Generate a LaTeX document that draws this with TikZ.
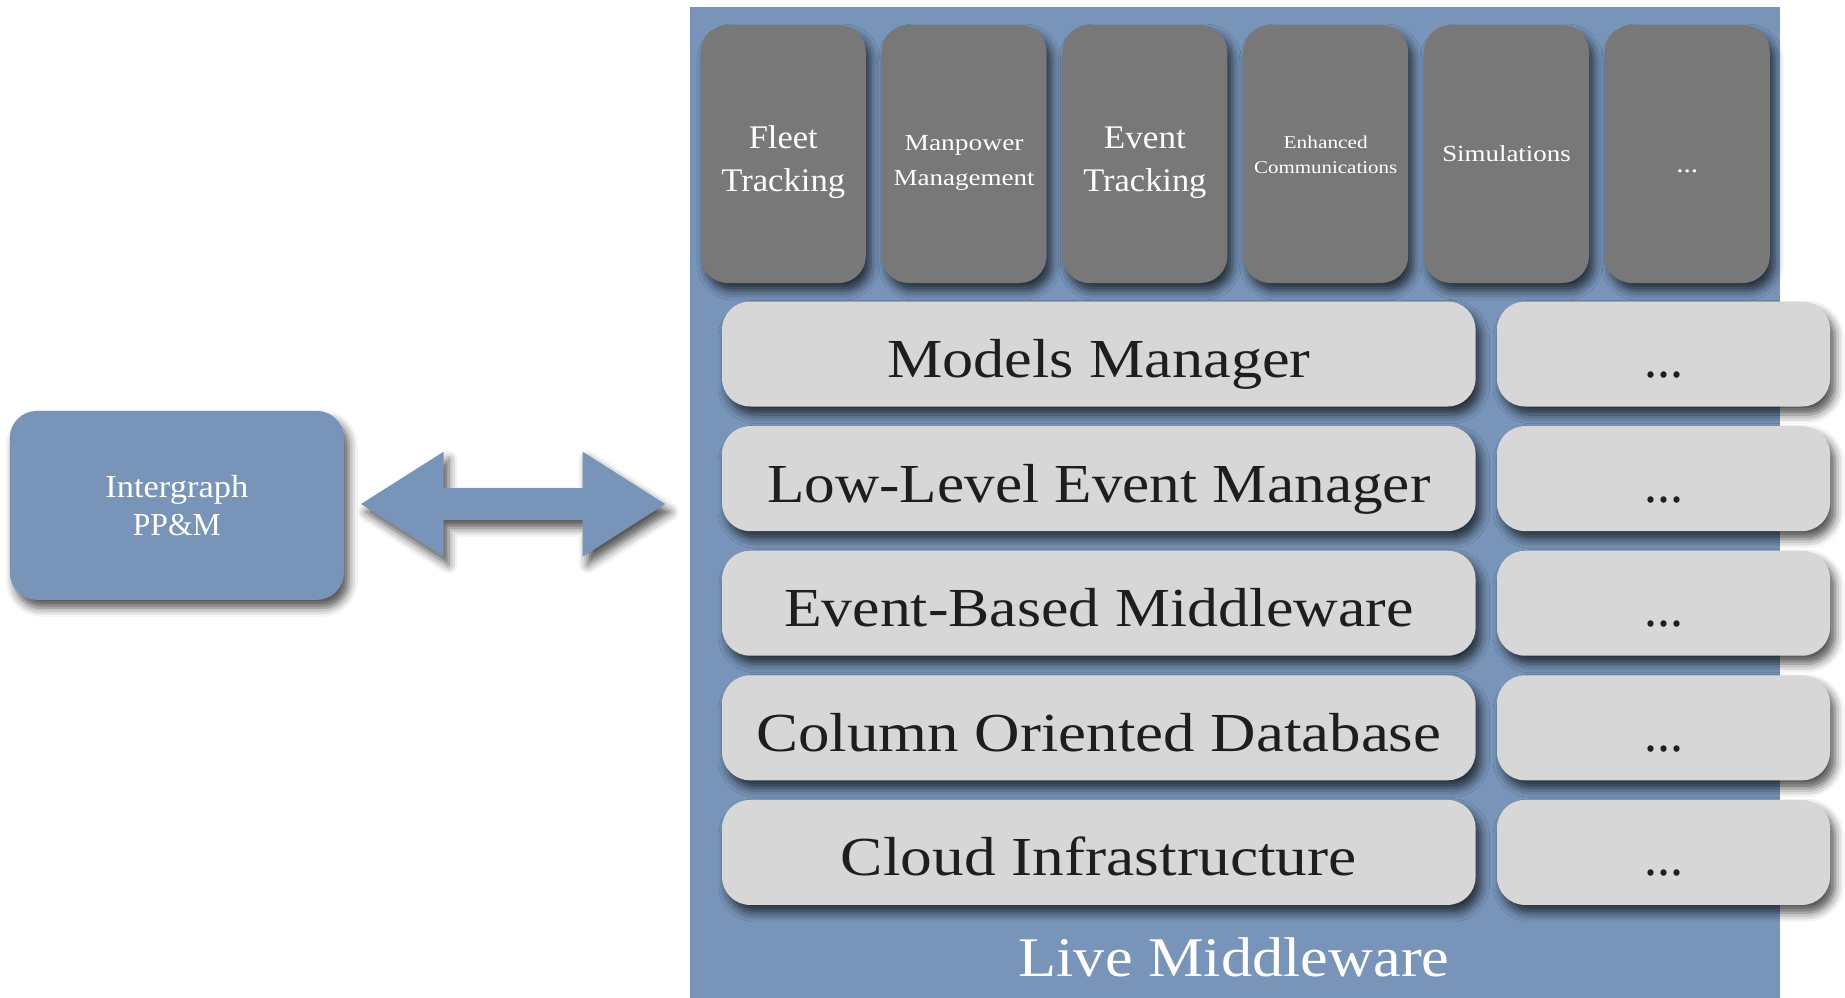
\documentclass[tikz,border=0pt]{standalone}
\usepackage{fontspec}
\setmainfont{Liberation Serif}
\usepackage{graphicx}
\usetikzlibrary{shadows.blur,calc}
\definecolor{mwblue}{HTML}{7895B9}
\definecolor{appgray}{HTML}{787878}
\definecolor{layergray}{HTML}{D7D7D7}
\definecolor{inkdark}{HTML}{1E1E1E}
\newcommand{\fitw}[2]{\resizebox{#1}{\height}{#2}}
\newcommand{\dropby}[2]{\raisebox{-#1}[\height][\depth]{\begin{tabular}{@{}c@{}}#2\end{tabular}}}
\tikzset{
 shd/.style={blur shadow={shadow xshift=5pt, shadow yshift=-8pt, shadow blur radius=9pt, shadow opacity=68}},
 container/.style={fill=mwblue, draw=none, inner sep=0pt, anchor=north west},
 appbox/.style={shd, fill=appgray, rounded corners=27pt, minimum width=165pt, minimum height=258pt, text=white, align=center, inner sep=0pt},
 layerbox/.style={shd, fill=layergray, rounded corners=28pt, minimum height=105pt, text=inkdark, font=\fontsize{55}{60}\selectfont, text height=47pt, text depth=0pt, inner sep=0pt},
 mainlayer/.style={layerbox, minimum width=753.5pt},
 morelayer/.style={layerbox, minimum width=333pt},
 extbox/.style={shd, fill=mwblue, rounded corners=27pt, minimum width=334pt, minimum height=189pt, text=white, align=center, inner sep=0pt, font=\fontsize{32}{38}\selectfont},
 biarrow/.style={shd, fill=mwblue, draw=none},
 lmlabel/.style={text=white, inner sep=0pt, anchor=base, font=\fontsize{56}{60}\selectfont},
}
\begin{document}
\begin{tikzpicture}[x=1pt,y=-1pt]
\useasboundingbox (0,0) rectangle (1845,998);
% container
\node[container, minimum width=1090.1pt, minimum height=991pt] (lm) at (689.5,7.3) {};
% application boxes
\node[appbox, font=\fontsize{33}{43}\selectfont] (fleet) at (783.3,154) {\dropby{7pt}{\fitw{69pt}{Fleet}\\\fitw{124pt}{Tracking}}};
\node[appbox, font=\fontsize{23}{35}\selectfont] (manp) at (964.1,154) {\dropby{7pt}{\fitw{119pt}{Manpower}\\\fitw{141pt}{Management}}};
\node[appbox, font=\fontsize{33}{43}\selectfont] (evtr) at (1144.9,154) {\dropby{7pt}{\fitw{82pt}{Event}\\\fitw{123pt}{Tracking}}};
\node[appbox, font=\fontsize{18}{25}\selectfont] (comm) at (1325.7,154) {\dropby{2pt}{\fitw{84pt}{Enhanced}\\\fitw{143pt}{Communications}}};
\node[appbox, font=\fontsize{23}{30}\selectfont] (sim) at (1506.5,154) {\dropby{2pt}{\fitw{128.5pt}{Simulations}}};
\node[appbox, font=\fontsize{26}{30}\selectfont] (appmore) at (1687.3,154) {\dropby{12pt}{\fitw{22pt}{...}}};
% layers
\node[mainlayer] (models) at (1098.8,354) {\fitw{423.5pt}{Models Manager}};
\node[morelayer] (models2) at (1663.5,354) {\fitw{39pt}{...}};
\node[mainlayer] (llem) at (1098.8,478.6) {\fitw{663pt}{Low-Level Event Manager}};
\node[morelayer] (llem2) at (1663.5,478.6) {\fitw{39pt}{...}};
\node[mainlayer] (ebm) at (1098.8,603.2) {\fitw{629.5pt}{Event-Based Middleware}};
\node[morelayer] (ebm2) at (1663.5,603.2) {\fitw{39pt}{...}};
\node[mainlayer] (cod) at (1098.8,727.8) {\fitw{685pt}{Column Oriented Database}};
\node[morelayer] (cod2) at (1663.5,727.8) {\fitw{39pt}{...}};
\node[mainlayer] (cloud) at (1098.8,852.4) {\fitw{516pt}{Cloud Infrastructure}};
\node[morelayer] (cloud2) at (1663.5,852.4) {\fitw{39pt}{...}};
\node[lmlabel] (lmtext) at (1234,976.7) {\fitw{431pt}{Live Middleware}};
% external system
\node[extbox] (ig) at (176.8,505.4) {\fitw{143pt}{Intergraph}\\\fitw{88pt}{PP\&M}};
% double arrow
\coordinate (al) at ($(ig.east)+(17,-1.4)$);
\coordinate (ar) at ($(lm.west |- al)+(-24.3,0)$);
\fill[biarrow] (al) -- ($(al)+(82.6,-52.3)$) -- ($(al)+(82.6,-16)$) -- ($(ar)+(-82.6,-16)$) -- ($(ar)+(-82.6,-52.3)$) -- (ar)
  -- ($(ar)+(-82.6,52.7)$) -- ($(ar)+(-82.6,16)$) -- ($(al)+(82.6,16)$) -- ($(al)+(82.6,52.7)$) -- cycle;
\end{tikzpicture}
\end{document}
